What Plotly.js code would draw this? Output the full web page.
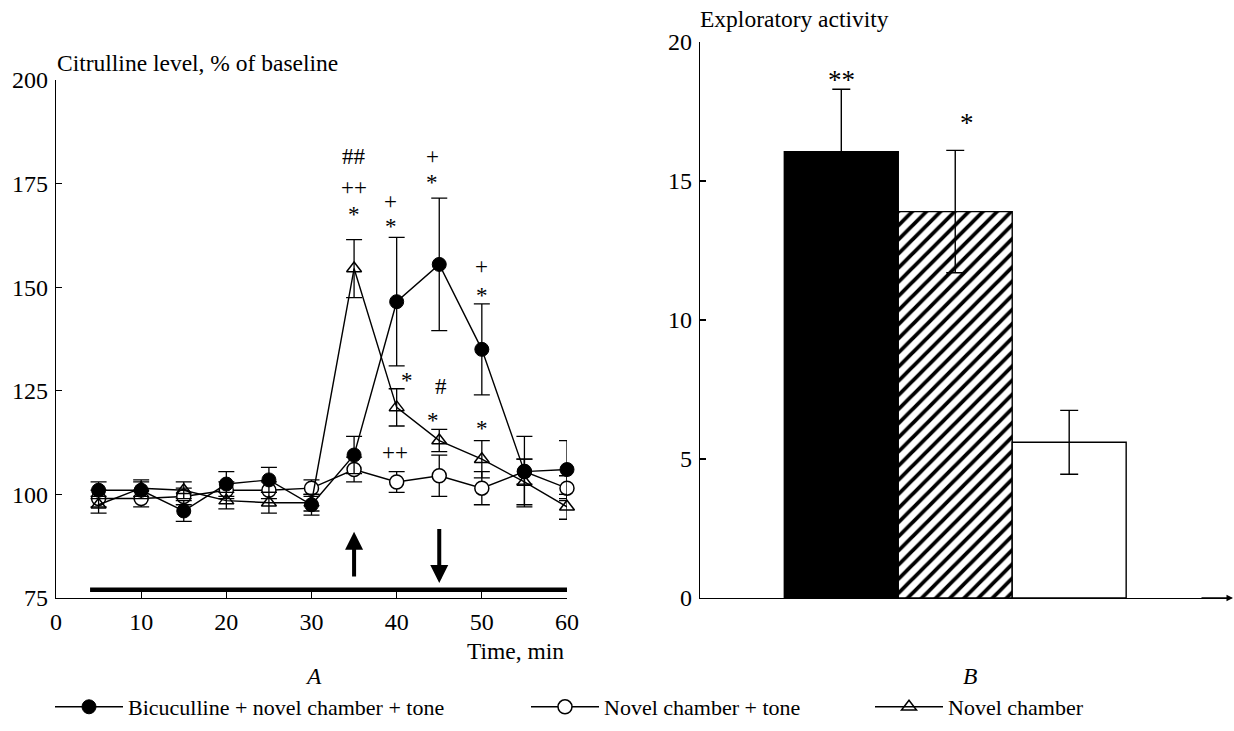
<!DOCTYPE html>
<html>
<head>
<meta charset="utf-8">
<script src="https://cdn.plot.ly/plotly-3.0.1.min.js"></script>
<style>html,body{margin:0;padding:0;background:#fff;}#chart{width:1234px;height:731px;}</style>
</head>
<body>
<div id="chart"></div>
<script>
// ---------- Panel A data ----------
const timeMin = [5, 10, 15, 20, 25, 30, 35, 40, 45, 50, 55, 60];
const bicValues = [101, 101, 96, 102.5, 103.5, 97.5, 109.5, 146.5, 155.5, 135, 105.5, 106];
const bicErrors = [2, 2, 2.5, 3, 3, 2.5, 4.5, 15.5, 16, 11, 8.5, 7];
const toneValues = [99, 99, 99.5, 101, 101, 101.5, 106, 103, 104.5, 101.5, 105.5, 101.5];
const toneErrors = [2, 2, 2, 2, 2, 2, 3, 2.5, 5, 4, 3, 3];
const novelValues = [97.5, 101.5, 101, 98.5, 98, 98, 154.5, 121, 113, 108.5, 103, 97];
const novelErrors = [2, 2, 2, 2, 2.5, 2, 7, 4.5, 2.7, 4.5, 5.5, 3];
const seriesNames = ["Bicuculline + novel chamber + tone", "Novel chamber + tone", "Novel chamber"];
const xTicksA = [0, 10, 20, 30, 40, 50, 60];
const yTicksA = [75, 100, 125, 150, 175, 200];
// significance marks: [x, y, text]
const marksA = [
  [35, 181.5, "##"], [35, 174, "++"], [35, 167.5, "*"],
  [39.3, 170.6, "+"], [39.3, 164.6, "*"],
  [44.2, 181.5, "+"], [44.2, 175.3, "*"],
  [50, 155, "+"], [50, 148, "*"],
  [41.2, 127.5, "*"], [45.2, 126, "#"], [44.3, 117.8, "*"], [50, 115.8, "*"],
  [39.8, 110, "++"]
];
const stimBarX = [4, 60];
const stimBarY = [77, 77];
const arrowUp = {x: 35, from: 79.8, to: 91};
const arrowDown = {x: 45, from: 92, to: 78.6};

// ---------- Panel B data ----------
const groups = ["Bicuculline + novel chamber + tone", "Novel chamber + tone", "Novel chamber"];
const groupPos = [0, 1, 2];
const activity = [16.05, 13.9, 5.6];
const activityErr = [2.25, 2.2, 1.15];
const barFill = ["black", "white", "white"];
const barHatch = ["", "/", ""];
const marksB = ["**", "*", ""];
const marksBY = [18.65, 17.1, 0];
const yTicksB = [0, 5, 10, 15, 20];

const serif = "'Liberation Serif'";
const W = 1234, H = 731;
const px = v => v / W;
const py = v => (H - v) / H;

const errStyle = (arr) => ({type: "data", array: arr, visible: true, color: "black", thickness: 1.3, width: 8});

const traces = [
  {
    x: timeMin, y: toneValues, name: seriesNames[1], type: "scatter", mode: "lines+markers",
    xaxis: "x", yaxis: "y", legend: "legend2", cliponaxis: false,
    line: {color: "black", width: 1.4},
    marker: {symbol: "circle", size: 14, color: "white", line: {color: "black", width: 1.5}},
    error_y: errStyle(toneErrors)
  },
  {
    x: timeMin, y: novelValues, name: seriesNames[2], type: "scatter", mode: "lines+markers",
    xaxis: "x", yaxis: "y", legend: "legend3", cliponaxis: false,
    line: {color: "black", width: 1.4},
    marker: {symbol: "triangle-up-open", size: 13, color: "black", line: {color: "black", width: 1.5}},
    error_y: errStyle(novelErrors)
  },
  {
    x: timeMin, y: bicValues, name: seriesNames[0], type: "scatter", mode: "lines+markers",
    xaxis: "x", yaxis: "y", legend: "legend", cliponaxis: false,
    line: {color: "black", width: 1.4},
    marker: {symbol: "circle", size: 14, color: "black", line: {color: "black", width: 1}},
    error_y: errStyle(bicErrors)
  },
  {
    x: stimBarX, y: stimBarY, type: "scatter", mode: "lines", showlegend: false, cliponaxis: false,
    xaxis: "x", yaxis: "y", line: {color: "black", width: 4.5}, hoverinfo: "skip"
  }
];

groupPos.forEach((g, i) => {
  const m = {color: barFill[i], line: {color: "black", width: 1.4}};
  if (barHatch[i]) m.pattern = {shape: barHatch[i], fgcolor: "black", bgcolor: "white", size: 10, solidity: 0.38, fillmode: "replace"};
  traces.push({
    x: [g], y: [activity[i]], type: "bar", xaxis: "x2", yaxis: "y2", showlegend: false, width: 1, name: groups[i],
    marker: m,
    error_y: {type: "data", array: [activityErr[i]], visible: true, color: "black", thickness: 1.4, width: 9}
  });
});

const annotations = [];
marksA.forEach(m => annotations.push({
  x: m[0], y: m[1], xref: "x", yref: "y", text: m[2], showarrow: false,
  font: {family: serif, size: 23, color: "black"}, xanchor: "center", yanchor: "middle"
}));
groupPos.forEach((g, i) => { if (marksB[i]) annotations.push({
  x: g + 0.1 * (i === 0 ? 0 : 1), y: marksBY[i], xref: "x2", yref: "y2", text: marksB[i], showarrow: false,
  font: {family: serif, size: 27, color: "black"}, xanchor: "center", yanchor: "middle"
}); });
// stimulus arrows
annotations.push({x: arrowUp.x, y: arrowUp.to, ax: arrowUp.x, ay: arrowUp.from, xref: "x", yref: "y", axref: "x", ayref: "y",
  showarrow: true, arrowhead: 2, arrowsize: 0.9, arrowwidth: 4, arrowcolor: "black", text: ""});
annotations.push({x: arrowDown.x, y: arrowDown.to, ax: arrowDown.x, ay: arrowDown.from, xref: "x", yref: "y", axref: "x", ayref: "y",
  showarrow: true, arrowhead: 2, arrowsize: 0.9, arrowwidth: 4, arrowcolor: "black", text: ""});
// axis arrow for panel B
annotations.push({x: px(1234), y: py(598), ax: px(1200), ay: py(598), xref: "paper", yref: "paper", axref: "paper", ayref: "paper",
  showarrow: true, arrowhead: 2, arrowsize: 1, arrowwidth: 1.3, arrowcolor: "black", text: ""});
// texts
const txt = (x, y, t, opts) => Object.assign({x: px(x), y: py(y), xref: "paper", yref: "paper", text: t, showarrow: false,
  font: {family: serif, size: 23.5, color: "black"}, xanchor: "left", yanchor: "middle"}, opts || {});
annotations.push(txt(55, 63, "Citrulline level, % of baseline"));
annotations.push(txt(566, 651, "Time, min", {xanchor: "right"}));
annotations.push(txt(313, 676, "<i>A</i>", {xanchor: "center"}));
annotations.push(txt(970, 676, "<i>B</i>", {xanchor: "center"}));
annotations.push(txt(698, 19, "Exploratory activity"));

const axisCommon = {
  showline: true, linecolor: "black", linewidth: 1.3, ticks: "inside", tickcolor: "black", tickwidth: 1.2, ticklen: 6,
  showgrid: false, zeroline: false, tickfont: {family: serif, size: 24, color: "black"}, fixedrange: true
};

const legendCommon = {orientation: "h", yanchor: "middle", y: py(707), xanchor: "left", bgcolor: "rgba(0,0,0,0)",
  font: {family: serif, size: 22, color: "black"}, itemwidth: 68, tracegroupgap: 0};

const layout = {
  width: W, height: H,
  margin: {l: 0, r: 0, t: 0, b: 0},
  paper_bgcolor: "white", plot_bgcolor: "white",
  showlegend: true,
  barmode: "overlay",
  xaxis: Object.assign({}, axisCommon, {domain: [px(56), px(567)], range: [0, 60], tickvals: xTicksA, ticklabelstandoff: 2}),
  yaxis: Object.assign({}, axisCommon, {domain: [py(598), py(80)], range: [75, 200], tickvals: yTicksA, ticklabelstandoff: 2}),
  xaxis2: Object.assign({}, axisCommon, {domain: [px(700), px(1231)], range: [-1.24, 3.42], showticklabels: false, ticks: "", anchor: "y2"}),
  yaxis2: Object.assign({}, axisCommon, {domain: [py(598), py(42)], range: [0, 20], tickvals: yTicksB, anchor: "x2", ticklabelstandoff: 2}),
  legend: Object.assign({}, legendCommon, {x: px(50)}),
  legend2: Object.assign({}, legendCommon, {x: px(526)}),
  legend3: Object.assign({}, legendCommon, {x: px(870)}),
  annotations: annotations,
  bargap: 0
};

Plotly.newPlot("chart", traces, layout, {displayModeBar: false, staticPlot: true});
</script>
</body>
</html>
